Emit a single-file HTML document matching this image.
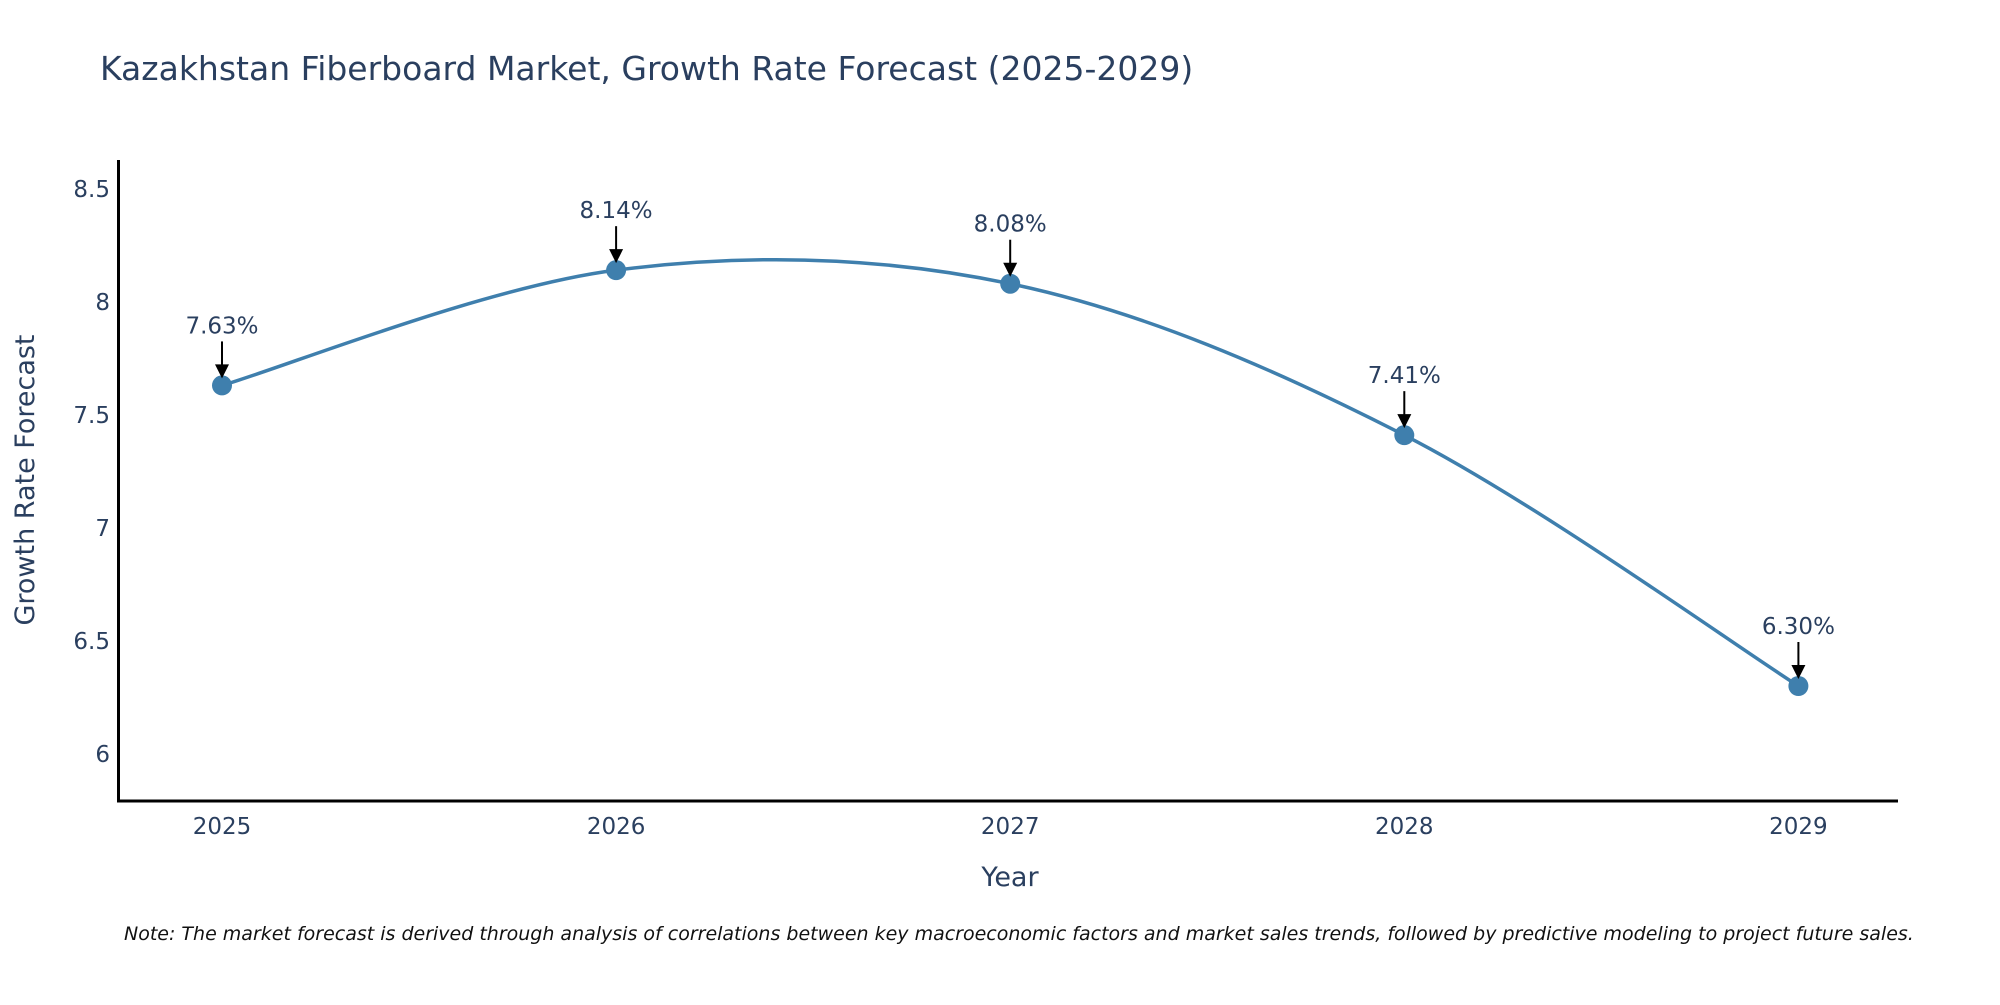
<!DOCTYPE html>
<html><head><meta charset="utf-8"><style>
body{margin:0;background:#fff;}
svg text{font-family:"DejaVu Sans","Liberation Sans",sans-serif;fill:#2a3f5f;}
</style></head><body>
<svg id="c" width="2000" height="1000" xmlns="http://www.w3.org/2000/svg">
<text x="100" y="80" font-size="33">Kazakhstan Fiberboard Market, Growth Rate Forecast (2025-2029)</text>
<g id="yt"></g><g id="xt"></g>
<line x1="118.5" y1="160" x2="118.5" y2="802" stroke="#000" stroke-width="3"/>
<line x1="117" y1="801" x2="1898" y2="801" stroke="#000" stroke-width="3"/>
<path id="line" fill="none" stroke="#3f7fad" stroke-width="3.5"/>
<g id="pts"></g>
<text transform="translate(34,480) rotate(-90)" text-anchor="middle" font-size="27">Growth Rate Forecast</text>
<text x="1010" y="886" text-anchor="middle" font-size="27">Year</text>
<text x="124" y="940" font-size="19" font-style="italic" style="fill:#111">Note: The market forecast is derived through analysis of correlations between key macroeconomic factors and market sales trends, followed by predictive modeling to project future sales.</text>
</svg>
<script>
const years=[2025,2026,2027,2028,2029];
const values=[7.63,8.14,8.08,7.41,6.30];
const labels=["7.63%","8.14%","8.08%","7.41%","6.30%"];
const yTicks=[6,6.5,7,7.5,8,8.5];
const yTickLabels=["6","6.5","7","7.5","8","8.5"];
const NS="http://www.w3.org/2000/svg";
function X(v){return 222+(v-2025)*394.1;}
function Y(v){return 753.8-(v-6)*(565/2.5);}
function mk(tag,attrs,parent){const e=document.createElementNS(NS,tag);for(const k in attrs)e.setAttribute(k,attrs[k]);parent.appendChild(e);return e;}
const yt=document.getElementById('yt'),xt=document.getElementById('xt'),pts=document.getElementById('pts');
yTicks.forEach((t,i)=>{const e=mk('text',{x:110,y:Y(t)+8,'text-anchor':'end','font-size':23},yt);e.textContent=yTickLabels[i];

});
years.forEach(yr=>{const e=mk('text',{x:X(yr),y:834,'text-anchor':'middle','font-size':23},xt);e.textContent=yr;

});
const P=years.map((yr,i)=>[X(yr),Y(values[i])]);
let d='M'+P[0][0]+','+P[0][1];
for(let i=0;i<P.length-1;i++){const p0=P[Math.max(0,i-1)],p1=P[i],p2=P[i+1],p3=P[Math.min(P.length-1,i+2)];const t=6;
d+=' C'+(p1[0]+(p2[0]-p0[0])/t)+','+(p1[1]+(p2[1]-p0[1])/t)+' '+(p2[0]-(p3[0]-p1[0])/t)+','+(p2[1]-(p3[1]-p1[1])/t)+' '+p2[0]+','+p2[1];}
document.getElementById('line').setAttribute('d',d);
P.forEach((p,i)=>{
const c=mk('circle',{cx:p[0],cy:p[1],r:10,fill:'#3f7fad'},pts);


const l=mk('line',{x1:p[0],y1:p[1]-44,x2:p[0],y2:p[1]-18,stroke:'#000','stroke-width':2},pts);


const h=mk('polygon',{points:(p[0]-7)+','+(p[1]-21)+' '+(p[0]+7)+','+(p[1]-21)+' '+p[0]+','+(p[1]-7),fill:'#000'},pts);


const t=mk('text',{x:p[0],y:p[1]-52,'text-anchor':'middle','font-size':23},pts);t.textContent=labels[i];

});
</script>
</body></html>
